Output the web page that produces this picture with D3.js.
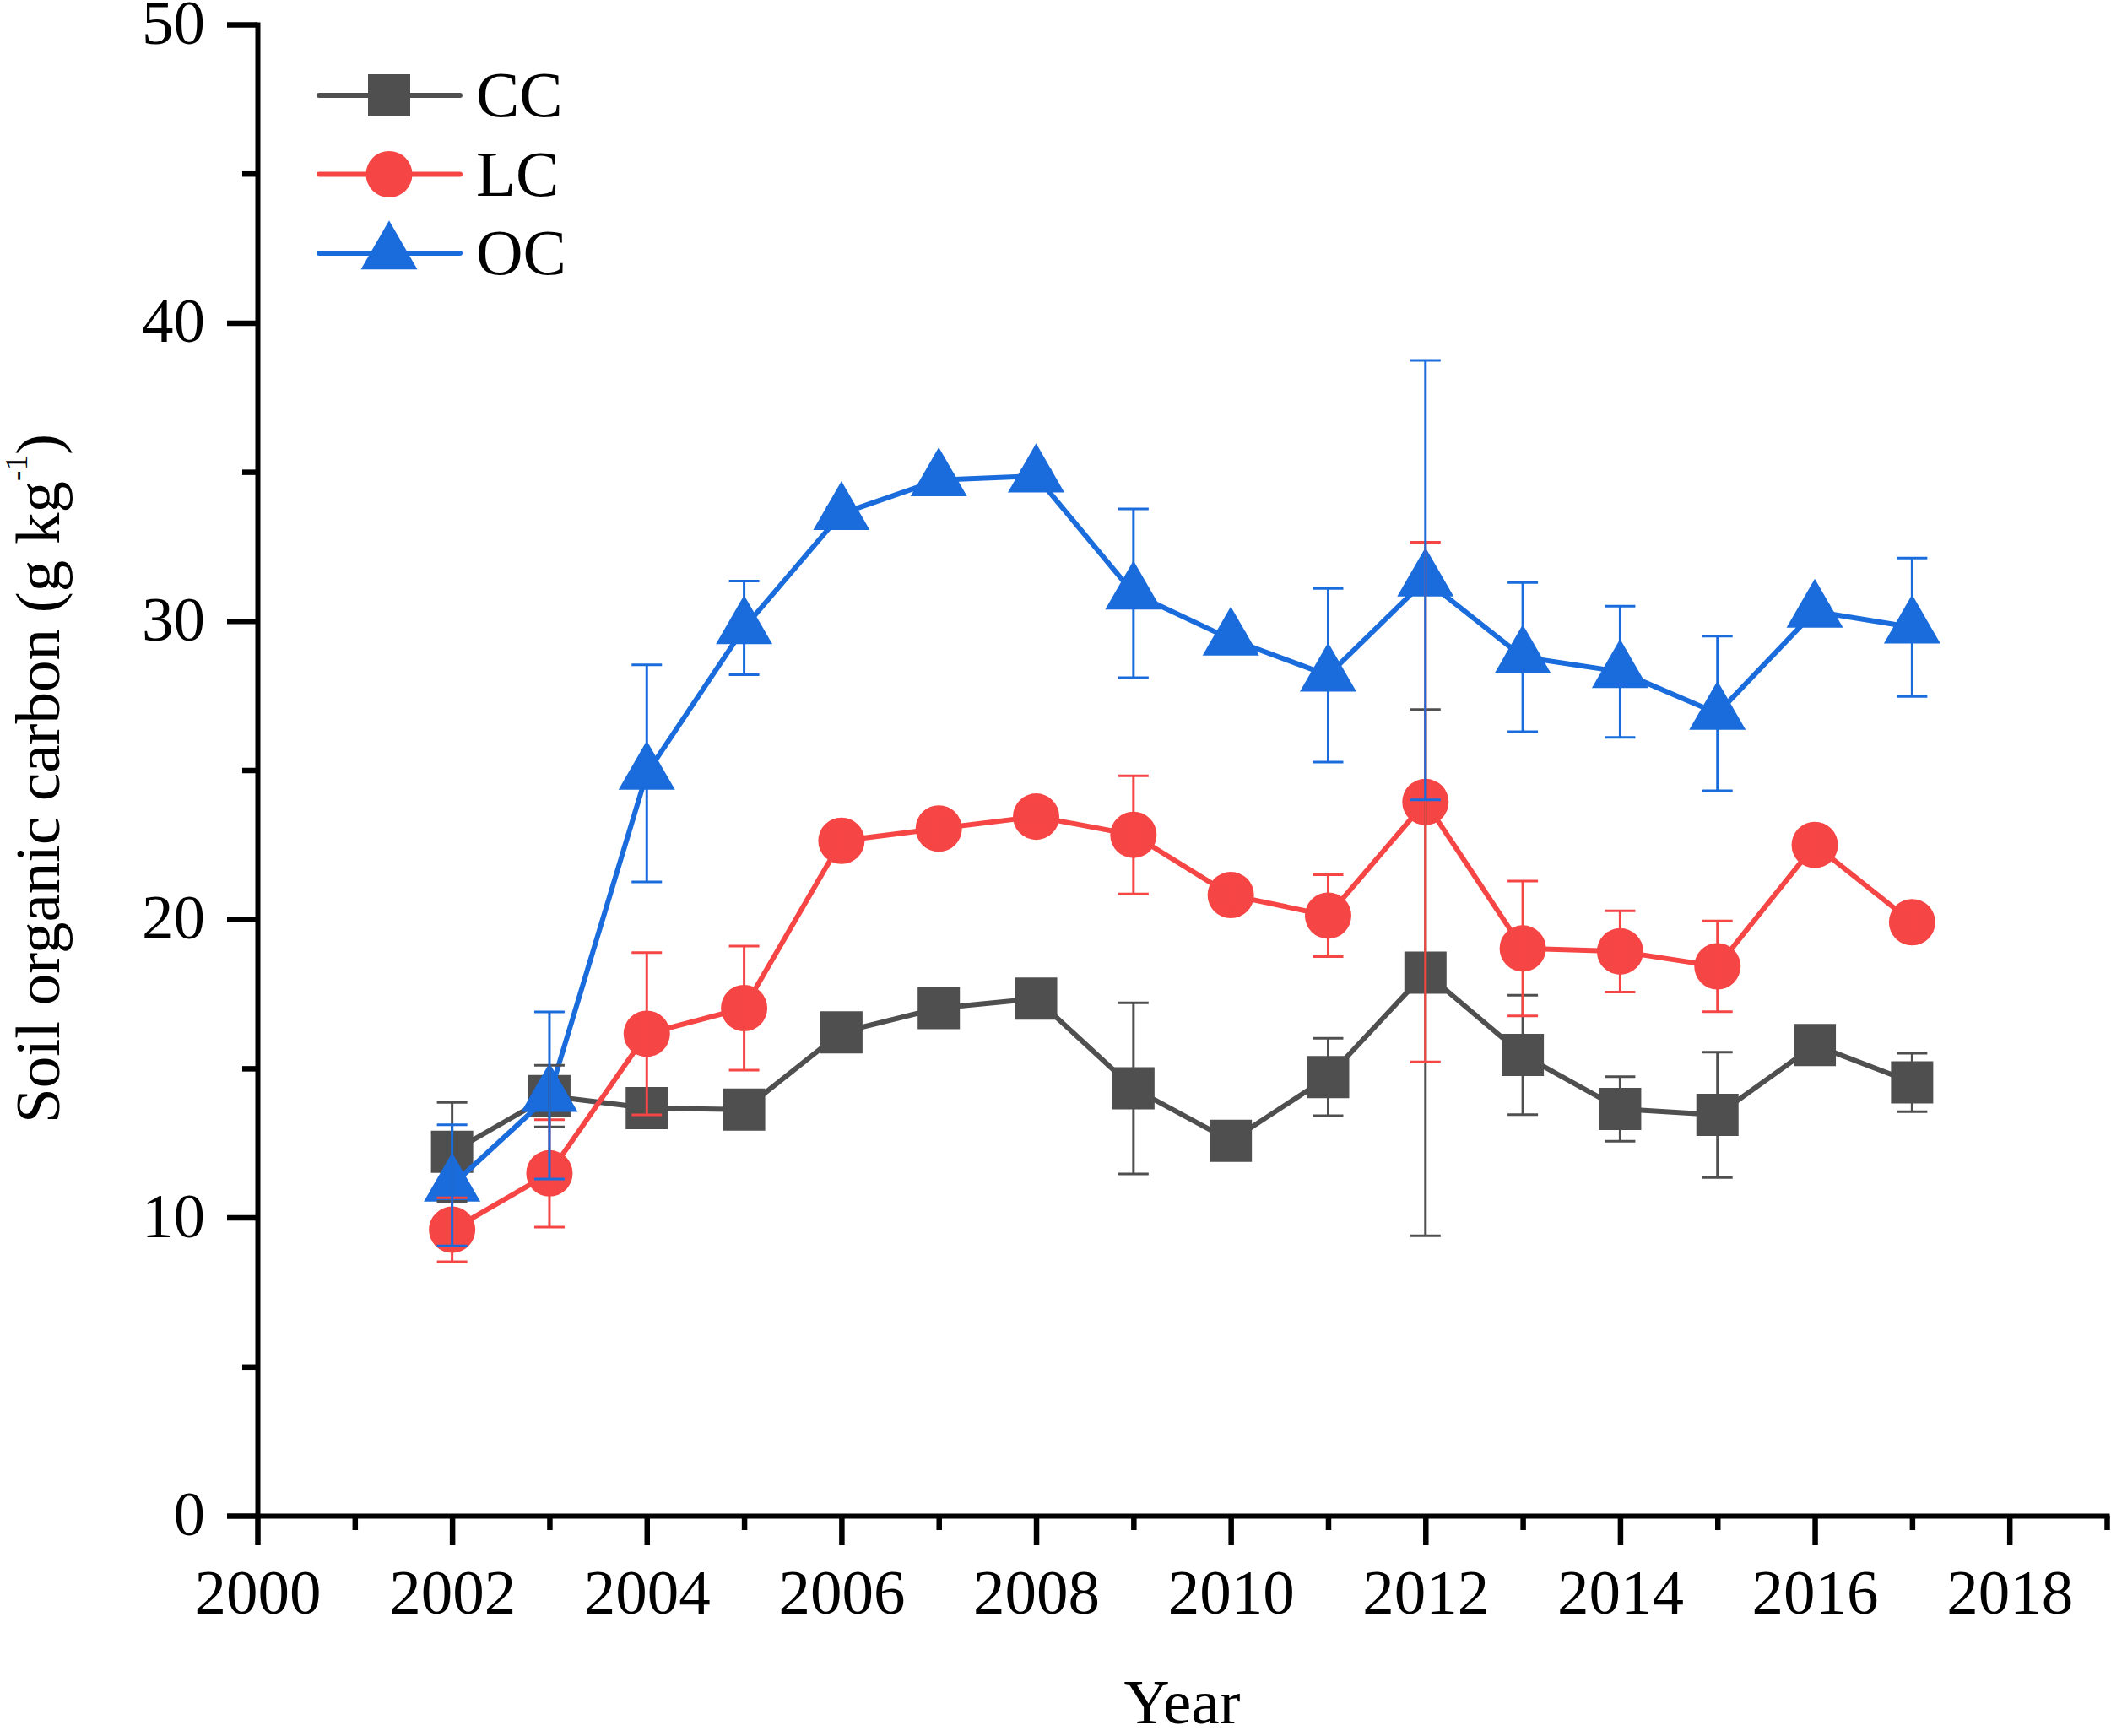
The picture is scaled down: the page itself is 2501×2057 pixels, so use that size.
<html>

<head>
    <script src="https://cdn.jsdelivr.net/npm/d3@7"></script>
    <style>
        body {
            margin: 0;
            background-color: #FFFFFF;
        }

        #Chart text {
            font-family: "Liberation Serif", "Times New Roman", serif;
        }
    </style>
</head>

<body>
    <svg id="Chart"></svg>
</body>

<script>
    // values
    let years = [2002, 2003, 2004, 2005, 2006, 2007, 2008, 2009, 2010, 2011, 2012, 2013, 2014, 2015, 2016, 2017];

    let ccMean = [12.20, 14.07, 13.67, 13.62, 16.21, 17.02, 17.34, 14.33, 12.57, 14.71, 18.21, 15.45, 13.64, 13.44, 15.78, 14.53];
    let ccErr = [1.66, 1.03, 0.6, 0.6, 0.3, 0.3, 0.3, 2.87, 0.4, 1.30, 8.82, 2.00, 1.08, 2.10, 0.3, 0.98];

    let lcMean = [9.59, 11.48, 16.16, 17.02, 22.63, 23.04, 23.44, 22.83, 20.81, 20.12, 23.93, 19.02, 18.92, 18.42, 22.49, 19.90];
    let lcErr = [1.07, 1.80, 2.72, 2.08, 0.5, 0.5, 0.5, 1.98, 0.5, 1.37, 8.71, 2.26, 1.36, 1.52, 0.5, 0.5];

    let ocMean = [11.08, 14.09, 24.89, 29.77, 33.60, 34.73, 34.86, 30.93, 29.39, 28.18, 31.37, 28.79, 28.30, 26.90, 30.32, 29.79];
    let ocErr = [2.03, 2.80, 3.64, 1.57, 0.2, 0.2, 0.2, 2.83, 0.2, 2.91, 7.37, 2.50, 2.20, 2.59, 0.2, 2.32];

    let seriesNames = ["CC", "LC", "OC"];
    let seriesColors = ["#4f4f4f", "#f64545", "#1a6cdc"];
    let seriesShapes = ["square", "circle", "triangle"];

    let xMajorTicks = [2000, 2002, 2004, 2006, 2008, 2010, 2012, 2014, 2016, 2018];
    let xMinorTicks = [2001, 2003, 2005, 2007, 2009, 2011, 2013, 2015, 2017, 2019];
    let yMajorTicks = [0, 10, 20, 30, 40, 50];
    let yMinorTicks = [5, 15, 25, 35, 45];

    let xTitle = "Year";
    let yTitle = "Soil organic carbon (g kg";
    let yTitleSup = "-1";

    function buildSeries() {
        let means = [ccMean, lcMean, ocMean];
        let errs = [ccErr, lcErr, ocErr];
        return seriesNames.map((name, i) => ({
            name: name,
            color: seriesColors[i],
            shape: seriesShapes[i],
            points: years.map((year, j) => ({ year: year, value: means[i][j], err: errs[i][j] }))
        }))
    }

    function getConfig() {
        let width = 2501;
        let height = 2057;
        let margin = { top: 29, bottom: 261, left: 305, right: 5 }
        let bodyWidth = width - margin.left - margin.right
        let bodyHeight = height - margin.top - margin.bottom
        let fontSize = 75

        let container = d3.select("#Chart")
        container.attr("width", width)
            .attr("height", height)

        return { width, height, margin, bodyWidth, bodyHeight, fontSize, container }
    }

    function getScales(config) {
        let { margin, width, height } = config;
        let xScale = d3.scaleLinear()
            .domain([2000, 2019])
            .range([margin.left, width - margin.right])
        let yScale = d3.scaleLinear()
            .domain([0, 50])
            .range([height - margin.bottom, margin.top])
        return { xScale, yScale }
    }

    // symbol outline centred on the data point
    function markerPath(shape) {
        if (shape == "square") {
            let h = 25;
            return `M${-h},${-h}H${h}V${h}H${-h}Z`
        }
        if (shape == "circle") {
            let r = 27.5;
            return `M${-r},0A${r},${r} 0 1,0 ${r},0A${r},${r} 0 1,0 ${-r},0Z`
        }
        let s = 67, t = s * Math.sqrt(3) / 2;
        return `M0,${-2 * t / 3}L${s / 2},${t / 3}L${-s / 2},${t / 3}Z`
    }

    function drawAxes(scales, config) {
        let { xScale, yScale } = scales;
        let { container, margin, height, fontSize } = config;
        let baseY = height - margin.bottom;

        let xMinor = d3.axisBottom(xScale).tickValues(xMinorTicks).tickSize(17).tickFormat("")
        let gxMinor = container.append("g").attr("transform", `translate(0,${baseY})`).call(xMinor)
        gxMinor.select(".domain").remove()

        let yMinor = d3.axisLeft(yScale).tickValues(yMinorTicks).tickSize(18).tickFormat("")
        let gyMinor = container.append("g").attr("transform", `translate(${margin.left},0)`).call(yMinor)
        gyMinor.select(".domain").remove()

        let xAxis = d3.axisBottom(xScale)
            .tickValues(xMajorTicks)
            .tickSize(35)
            .tickSizeOuter(0)
            .tickPadding(28)
            .tickFormat(d3.format("d"))
        let gx = container.append("g").attr("transform", `translate(0,${baseY})`).call(xAxis)

        let yAxis = d3.axisLeft(yScale)
            .tickValues(yMajorTicks)
            .tickSize(36)
            .tickSizeOuter(0)
            .tickPadding(26)
        let gy = container.append("g").attr("transform", `translate(${margin.left},0)`).call(yAxis)

        gy.selectAll(".tick text").attr("dy", "0.3em")

        for (let g of [gx, gy, gxMinor, gyMinor]) {
            g.attr("font-family", null).attr("font-size", fontSize)
            g.selectAll("line").attr("stroke", "#000").attr("stroke-width", 6.5)
            g.selectAll(".domain").attr("stroke", "#000").attr("stroke-width", 6).attr("stroke-linecap", "square")
            g.selectAll("text").attr("fill", "#000")
        }

        container.append("text")
            .attr("x", (xScale.range()[0] + xScale.range()[1]) / 2)
            .attr("y", 2042)
            .attr("text-anchor", "middle")
            .attr("font-size", fontSize)
            .text(xTitle)

        let yLabel = container.append("text")
            .attr("transform", `translate(70,${(yScale.range()[0] + yScale.range()[1]) / 2 + 10}) rotate(-90)`)
            .attr("text-anchor", "middle")
            .attr("font-size", fontSize)
        yLabel.append("tspan").text(yTitle)
        yLabel.append("tspan").attr("font-size", 37).attr("dy", -38).text(yTitleSup)
        yLabel.append("tspan").attr("dy", 38).text(")")
    }

    function drawSeries(series, scales, config) {
        let { xScale, yScale } = scales;
        let { container } = config;
        let line = d3.line().x(d => xScale(d.year)).y(d => yScale(d.value))

        let groups = container.selectAll(".series")
            .data(series)
            .enter().append("g")
            .attr("class", "series")

        groups.append("path")
            .attr("d", d => line(d.points))
            .attr("fill", "none")
            .attr("stroke", d => d.color)
            .attr("stroke-width", 6)
            .attr("stroke-linejoin", "round")

        groups.each(function (s) {
            d3.select(this).selectAll(".marker")
                .data(s.points)
                .enter().append("path")
                .attr("class", "marker")
                .attr("d", markerPath(s.shape))
                .attr("transform", d => `translate(${xScale(d.year)},${yScale(d.value)})`)
                .attr("fill", s.color)
        })

        // error bars go over every symbol
        let capHalf = 18;
        series.forEach(s => {
            let bars = container.append("g")
                .attr("stroke", s.color)
                .attr("stroke-width", 3)
                .selectAll("g")
                .data(s.points)
                .enter().append("g")
            bars.append("line")
                .attr("x1", d => xScale(d.year)).attr("x2", d => xScale(d.year))
                .attr("y1", d => yScale(d.value + d.err)).attr("y2", d => yScale(d.value - d.err))
            bars.append("line")
                .attr("x1", d => xScale(d.year) - capHalf).attr("x2", d => xScale(d.year) + capHalf)
                .attr("y1", d => yScale(d.value + d.err)).attr("y2", d => yScale(d.value + d.err))
            bars.append("line")
                .attr("x1", d => xScale(d.year) - capHalf).attr("x2", d => xScale(d.year) + capHalf)
                .attr("y1", d => yScale(d.value - d.err)).attr("y2", d => yScale(d.value - d.err))
        })
    }

    function drawLegend(series, config) {
        let { container, fontSize } = config;
        let rowY = d3.scalePoint().domain(seriesNames).range([113, 300])

        let rows = container.append("g").selectAll("g")
            .data(series)
            .enter().append("g")
            .attr("transform", d => `translate(0,${rowY(d.name)})`)

        rows.append("line")
            .attr("x1", 378).attr("x2", 545)
            .attr("stroke", d => d.color)
            .attr("stroke-width", 6)
            .attr("stroke-linecap", "round")
        rows.append("path")
            .attr("d", d => markerPath(d.shape))
            .attr("transform", "translate(461,0)")
            .attr("fill", d => d.color)
        rows.append("text")
            .attr("x", 564)
            .attr("y", 25)
            .attr("font-size", fontSize + 2)
            .text(d => d.name)
    }

    function showChart() {
        let config = getConfig();
        let scales = getScales(config);
        let series = buildSeries();
        drawAxes(scales, config);
        drawSeries(series, scales, config);
        drawLegend(series, config);
    }

    showChart();
</script>

</html>
